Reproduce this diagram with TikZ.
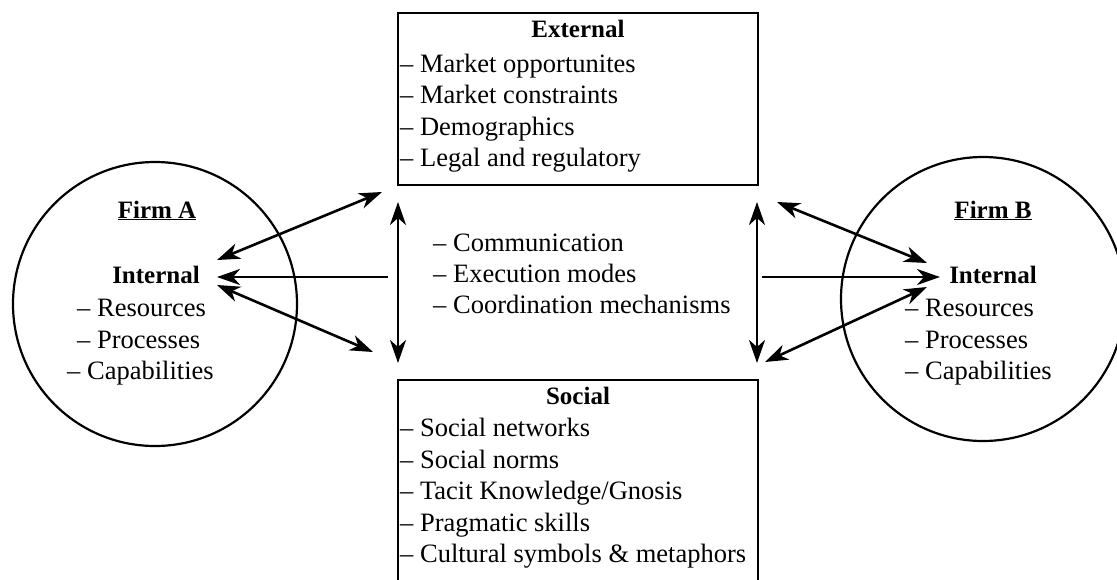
\documentclass[tikz,border=0pt]{standalone}
\usepackage{fontspec}
\setmainfont{Liberation Serif}
\usetikzlibrary{arrows.meta}
\tikzset{
  txt/.style={inner sep=0pt, anchor=base west, font=\fontsize{26.5}{31.5}\selectfont},
  head/.style={inner sep=0pt, anchor=base, font=\fontsize{25}{31.5}\selectfont\bfseries},
  frame/.style={draw, line width=2.8pt, inner sep=0pt},
  firm/.style={draw, circle, line width=2.2pt, inner sep=0pt, minimum size=284pt},
  tip/.style={},
  link/.style={line width=2.6pt, arrows={Stealth[length=23pt,width=16pt,inset=7pt]-Stealth[length=23pt,width=16pt,inset=7pt]}},
  onelink/.style={line width=2.6pt, -{Stealth[length=23pt,width=16pt,inset=7pt]}}
}
\begin{document}
\begin{tikzpicture}[x=1pt,y=-1pt]
\clip (0,0) rectangle (1117,579);
\fill[white] (0,0) rectangle (1117,579);

% boxes
\node[frame, minimum width=360pt, minimum height=172pt] (ext) at (578,99) {};
\node[frame, minimum width=360pt, minimum height=240pt] (soc) at (578,500) {};

% circles
\node[firm] (fa) at (155,304) {};
\node[firm] (fb) at (983,299) {};

% External text
\node[head] (extH) at (578,37) {External};
\node[txt] (e1) at (400,72) {– Market opportunites};
\node[txt] (e2) at (400,103.5) {– Market constraints};
\node[txt] (e3) at (400,135) {– Demographics};
\node[txt] (e4) at (400,166.5) {– Legal and regulatory};

% Social text
\node[head] (socH) at (578,404) {Social};
\node[txt] (s1) at (400,436.5) {– Social networks};
\node[txt] (s2) at (400,468) {– Social norms};
\node[txt] (s3) at (400,499.5) {– Tacit Knowledge/Gnosis};
\node[txt] (s4) at (400,531) {– Pragmatic skills};
\node[txt] (s5) at (400,562.5) {– Cultural symbols \& metaphors};

% Center text
\node[txt] (c1) at (433,251) {– Communication};
\node[txt] (c2) at (433,282) {– Execution modes};
\node[txt] (c3) at (433,313) {– Coordination mechanisms};

% Firm A text
\node[head] (faH) at (157,218) {\underline{Firm A}};
\node[head] (faI) at (156,283) {Internal};
\node[txt] (fa1) at (77,316) {– Resources};
\node[txt] (fa2) at (77,348) {– Processes};
\node[txt] (fa3) at (67,379.5) {– Capabilities};

% Firm B text
\node[head] (fbH) at (993,218) {\underline{Firm B}};
\node[head] (fbI) at (993,283) {Internal};
\node[txt] (fb1) at (905,316) {– Resources};
\node[txt] (fb2) at (905,348) {– Processes};
\node[txt] (fb3) at (905,379.5) {– Capabilities};

% arrow end points
\coordinate (a1s) at (217,260);
\coordinate (a1e) at (382,192);
\coordinate (a2s) at (388,277);
\coordinate (a2e) at (217,277);
\coordinate (a3s) at (217,285);
\coordinate (a3e) at (373,352);
\coordinate (v1s) at (398,202);
\coordinate (v1e) at (398,363);
\coordinate (v2s) at (757,202);
\coordinate (v2e) at (757,363);
\coordinate (b1s) at (777,202);
\coordinate (b1e) at (927,263);
\coordinate (b2s) at (762,277);
\coordinate (b2e) at (940,277);
\coordinate (b3s) at (765,362);
\coordinate (b3e) at (927,287);

\draw[link] (a1s) -- (a1e);
\draw[onelink] (a2s) -- (a2e);
\draw[link] (a3s) -- (a3e);
\draw[link] (v1s) -- (v1e);
\draw[link] (v2s) -- (v2e);
\draw[link] (b1s) -- (b1e);
\draw[onelink] (b2s) -- (b2e);
\draw[link] (b3s) -- (b3e);
\end{tikzpicture}
\end{document}
